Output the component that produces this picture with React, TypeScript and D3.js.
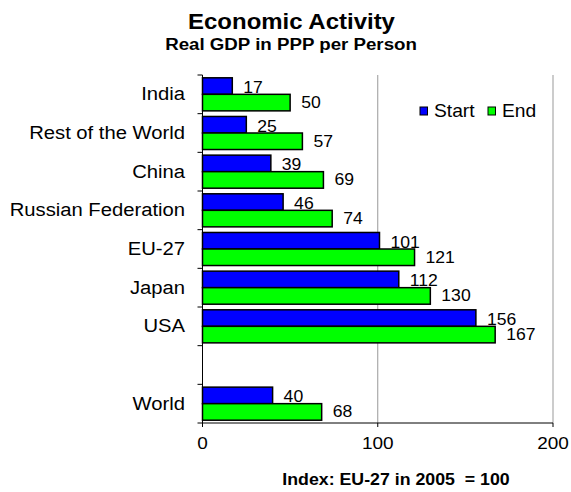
import React from "react";
import * as d3 from "d3";

const categories = ["India", "Rest of the World", "China", "Russian Federation", "EU-27", "Japan", "USA", "", "World"];
const startValues: (number | null)[] = [17, 25, 39, 46, 101, 112, 156, null, 40];
const endValues: (number | null)[] = [50, 57, 69, 74, 121, 130, 167, null, 68];
const xTicks = [0, 100, 200];
const seriesNames = ["Start", "End"];
const seriesColors = ["#0000FF", "#00FF00"];

const W = 571;
const H = 492;
const FONT = "'Liberation Sans', Arial, Helvetica, sans-serif";

function SText(props: {
  x: number; y: number; sx?: number; size: number; anchor?: string; weight?: string | number; children: React.ReactNode;
}) {
  const { x, y, sx = 1, size, anchor = "start", weight = "normal", children } = props;
  return (
    <text
      transform={`translate(${x},${y}) scale(${sx},1)`}
      textAnchor={anchor}
      fontFamily={FONT}
      fontSize={size}
      fontWeight={weight}
      fill="#000"
      style={{ whiteSpace: "pre" }}
    >
      {children}
    </text>
  );
}

export default function App() {
  const left = 202.5;
  const right = 553;
  const top = 75;
  const bottom = 423;

  const x = d3.scaleLinear().domain([0, 200]).range([left, right]);
  const keys = categories.map((c, i) => `${i}:${c}`);
  const y = d3.scaleBand<string>().domain(keys).range([top, bottom]).padding(0);
  const bw = y.bandwidth();
  const pad = 2.8;
  const barH = (bw - 2 * pad) / 2;

  return (
    <svg width={W} height={H} style={{ position: "absolute", left: 0, top: 0, background: "#fff" }}>
      <rect x={0} y={0} width={W} height={H} fill="#fff" />
      {/* Titles */}
      <SText x={291.5} y={29} size={22} sx={1.09} anchor="middle" weight="bold">Economic Activity</SText>
      <SText x={291} y={50} size={17} sx={1.1} anchor="middle" weight="bold">Real GDP in PPP per Person</SText>

      {/* Gridlines */}
      {xTicks.filter((t) => t > 0).map((t) => (
        <line key={t} x1={x(t)} x2={x(t)} y1={top} y2={bottom} stroke="#999" strokeWidth={1} />
      ))}

      {/* Bars */}
      {keys.map((k, i) => {
        const y0 = (y(k) as number) + pad;
        const vals = [startValues[i], endValues[i]];
        return (
          <g key={k}>
            {vals.map((v, j) =>
              v == null ? null : (
                <g key={j}>
                  <rect
                    x={x(0)}
                    y={y0 + j * barH}
                    width={x(v) - x(0)}
                    height={barH}
                    fill={seriesColors[j]}
                    stroke="#000"
                    strokeWidth={1.5}
                  />
                  <SText
                    x={x(v) + 11}
                    y={y0 + (j + 1) * barH - (j === 0 ? 1.5 : 3)}
                    size={16}
                    sx={1.1}
                  >
                    {String(v)}
                  </SText>
                </g>
              )
            )}
          </g>
        );
      })}

      {/* Axes */}
      <line x1={left} x2={left} y1={top} y2={bottom} stroke="#000" strokeWidth={1} />
      <line x1={left} x2={right} y1={bottom} y2={bottom} stroke="#000" strokeWidth={1} />
      {keys.map((k) => (
        <line key={"t" + k} x1={left - 5} x2={left} y1={y(k) as number} y2={y(k) as number} stroke="#000" strokeWidth={1} />
      ))}
      <line x1={left - 5} x2={left} y1={bottom} y2={bottom} stroke="#000" strokeWidth={1} />
      {xTicks.map((t) => (
        <g key={"x" + t}>
          <line x1={x(t)} x2={x(t)} y1={bottom} y2={bottom + 4} stroke="#000" strokeWidth={1} />
          <SText x={x(t)} y={449.3} size={16.5} sx={1.15} anchor="middle">{String(t)}</SText>
        </g>
      ))}

      {/* Category labels */}
      {keys.map((k, i) => (
        <SText key={"c" + k} x={185} y={(y(k) as number) + bw / 2 + 6} size={19} sx={1.065} anchor="end">
          {categories[i]}
        </SText>
      ))}

      {/* Axis title */}
      <SText x={396} y={485} size={16} sx={1.11} anchor="middle" weight="bold">{"Index: EU-27 in 2005  = 100"}</SText>

      {/* Legend */}
      <rect x={420} y={107} width={7.5} height={8} fill={seriesColors[0]} stroke="#000" strokeWidth={1} />
      <SText x={434} y={117.3} size={17.5} sx={1.1}>{seriesNames[0]}</SText>
      <rect x={488} y={107} width={7.5} height={8} fill={seriesColors[1]} stroke="#000" strokeWidth={1} />
      <SText x={502} y={117.3} size={17.5} sx={1.1}>{seriesNames[1]}</SText>
    </svg>
  );
}
